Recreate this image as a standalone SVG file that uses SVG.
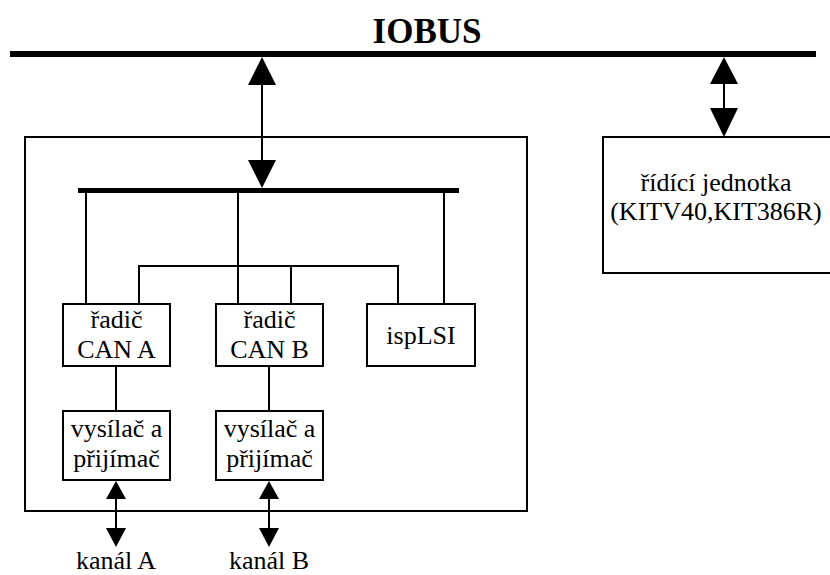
<svg xmlns="http://www.w3.org/2000/svg" width="830" height="575" viewBox="0 0 830 575">
<style>
  .box { fill: #fff; stroke: #000; stroke-width: 2; }
  .ln { stroke: #000; stroke-width: 2; fill: none; }
  .bus { stroke: #000; fill: none; }
  .head { fill: #000; }
  .t { font-family: "Liberation Serif", "Times New Roman", "DejaVu Serif", serif; font-size: 26px; fill: #000; text-anchor: middle; }
  .title { font-size: 35px; font-weight: bold; }
</style>
<rect width="830" height="575" fill="#fff"/>

<g id="iobus">
  <text class="t title" x="427" y="43">IOBUS</text>
  <line class="bus" x1="10" y1="54" x2="816" y2="54" stroke-width="6"/>
</g>

<g id="module">
  <rect class="box" x="25" y="137" width="502" height="374"/>
  <line class="bus" x1="78" y1="190.5" x2="459" y2="190.5" stroke-width="5"/>
</g>

<g id="radic-can-a">
  <rect class="box" x="63" y="304" width="107" height="62"/>
  <text class="t" x="116.5" y="328">řadič</text>
  <text class="t" x="116.5" y="358">CAN A</text>
</g>

<g id="radic-can-b">
  <rect class="box" x="216" y="304" width="107" height="62"/>
  <text class="t" x="269.5" y="328">řadič</text>
  <text class="t" x="269.5" y="358">CAN B</text>
</g>

<g id="isplsi">
  <rect class="box" x="367" y="304" width="108" height="62"/>
  <text class="t" x="421" y="344">ispLSI</text>
</g>

<g id="vysilac-a">
  <rect class="box" x="63" y="411" width="107" height="69"/>
  <text class="t" x="116.5" y="437">vysílač a</text>
  <text class="t" x="116.5" y="467">přijímač</text>
</g>

<g id="vysilac-b">
  <rect class="box" x="216" y="411" width="107" height="69"/>
  <text class="t" x="269.5" y="437">vysílač a</text>
  <text class="t" x="269.5" y="467">přijímač</text>
</g>

<g id="ridici-jednotka">
  <rect class="box" x="603" y="137" width="240" height="136"/>
  <text class="t" x="716" y="191">řídící jednotka</text>
  <text class="t" x="716" y="220">(KITV40,KIT386R)</text>
</g>

<g id="kanal-a">
  <text class="t" x="116" y="569">kanál A</text>
</g>
<g id="kanal-b">
  <text class="t" x="269" y="569">kanál B</text>
</g>

<g id="connectors">
  <line class="ln" x1="262" y1="80" x2="262" y2="165"/>
  <polygon class="head" points="262,57 248,85 276,85"/>
  <polygon class="head" points="262,188 248,160 276,160"/>
  <line class="ln" x1="724" y1="80" x2="724" y2="112"/>
  <polygon class="head" points="724,57 710,84 738,84"/>
  <polygon class="head" points="724,137 710,108 738,108"/>
  <line class="ln" x1="86" y1="192" x2="86" y2="304"/>
  <line class="ln" x1="238" y1="192" x2="238" y2="304"/>
  <line class="ln" x1="444" y1="192" x2="444" y2="304"/>
  <polyline class="ln" points="139,304 139,266 398,266 398,304"/>
  <line class="ln" x1="291" y1="266" x2="291" y2="304"/>
  <line class="ln" x1="116" y1="366" x2="116" y2="411"/>
  <line class="ln" x1="269" y1="366" x2="269" y2="411"/>
  <line class="ln" x1="116" y1="495" x2="116" y2="532"/>
  <polygon class="head" points="116,481 106,499 126,499"/>
  <polygon class="head" points="116,547 106,528 126,528"/>
  <line class="ln" x1="269" y1="495" x2="269" y2="532"/>
  <polygon class="head" points="269,481 259,499 279,499"/>
  <polygon class="head" points="269,547 259,528 279,528"/>
</g>
</svg>
